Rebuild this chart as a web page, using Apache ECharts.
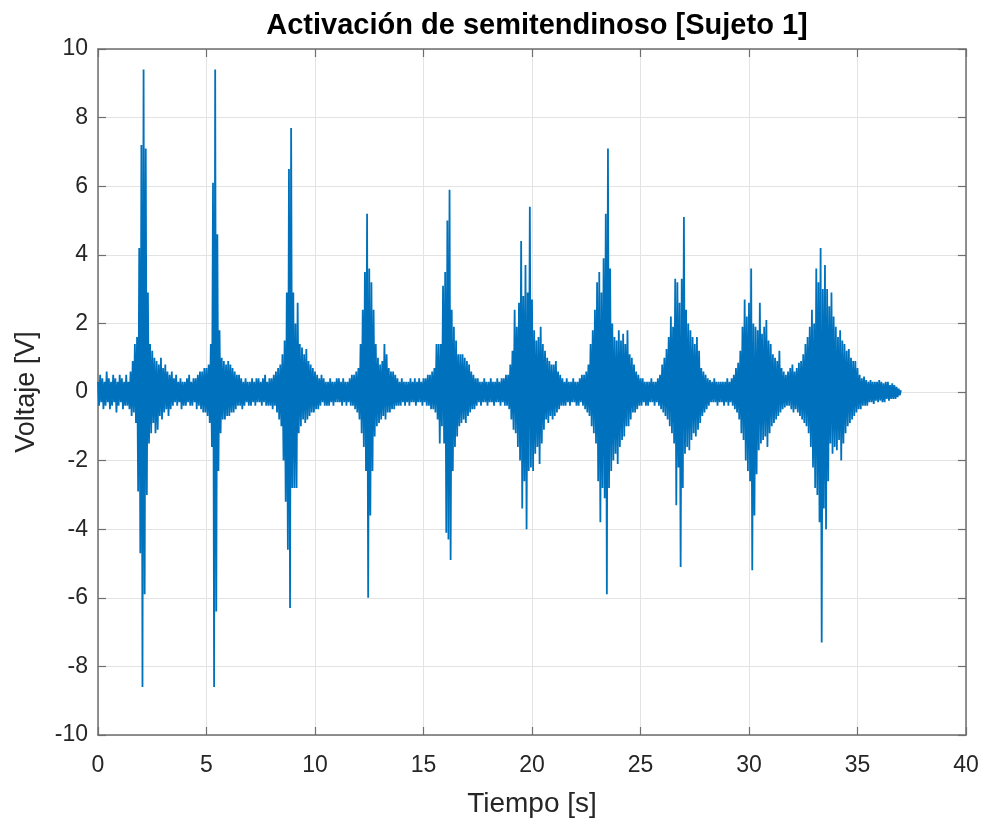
<!DOCTYPE html>
<html>
<head>
<meta charset="utf-8">
<script src="https://cdn.jsdelivr.net/npm/echarts@6/dist/echarts.min.js"></script>
<style>
html,body{margin:0;padding:0;background:#fff;}
#chart{width:986px;height:825px;}
</style>
</head>
<body>
<div id="chart"></div>
<script>
// ---- data ----
const chartTitle = 'Activación de semitendinoso [Sujeto 1]';
const xName = 'Tiempo [s]';
const yName = 'Voltaje [V]';
const xTicks = [0, 5, 10, 15, 20, 25, 30, 35, 40];
const yTicks = [-10, -8, -6, -4, -2, 0, 2, 4, 6, 8, 10];

// sample spacing (s) and start time (s) of each recorded stretch
const sampleStep = 0.05;
const cycleStart = [0, 3.5, 7.0, 10.6, 14.3, 18.0, 21.7, 25.3, 28.8, 31.9];

// voltage samples (V)
const cycle1 = [
0.3,-0.4,0.5,-0.3,0.4,-0.5,0.3,-0.4,0.6,-0.3,
0.4,-0.5,0.3,-0.4,0.5,-0.3,0.4,-0.6,0.3,-0.4,
0.5,-0.3,0.4,-0.5,0.3,-0.4,0.5,-0.4,0.3,-0.5,
0.6,-0.7,0.9,-0.6,1.4,-0.9,1.6,-2.9,4.2,-4.7,
7.2,-8.6,9.4,-5.9,7.1,-3.0,2.9,-1.5,1.4,-1.2,
1.2,-0.9,1.0,-1.2,0.9,-1.1,0.8,-0.7,1.0,-0.8,
0.7,-0.6,0.8,-0.5,0.6,-0.7,0.5,-0.5,0.6,-0.4];
const cycle2 = [
0.4,-0.3,0.5,-0.4,0.3,-0.3,0.4,-0.5,0.3,-0.4,
0.3,-0.4,0.4,-0.3,0.5,-0.4,0.3,-0.4,0.4,-0.3,
0.4,-0.5,0.5,-0.4,0.6,-0.5,0.6,-0.6,0.7,-0.6,
0.7,-0.7,0.8,-0.9,1.4,-1.6,6.1,-8.6,9.4,-6.4,
4.6,-2.3,1.8,-1.2,1.0,-0.8,0.9,-0.8,0.8,-0.7,
0.9,-0.7,0.8,-0.6,0.7,-0.6,0.6,-0.5,0.5,-0.4,
0.5,-0.4,0.4,-0.5,0.3,-0.4,0.4,-0.3,0.3,-0.4];
const cycle3 = [
0.3,-0.4,0.4,-0.3,0.3,-0.4,0.4,-0.3,0.4,-0.3,
0.3,-0.4,0.4,-0.3,0.5,-0.4,0.3,-0.4,0.4,-0.4,
0.4,-0.5,0.5,-0.4,0.6,-0.6,0.7,-0.8,0.8,-1.0,
1.1,-2.0,1.5,-3.2,2.9,-4.6,6.5,-6.3,7.7,-2.8,
2.9,-2.8,2.0,-2.8,2.6,-1.2,1.4,-1.0,1.3,-0.8,
1.1,-0.9,1.25,-0.8,0.9,-0.7,0.8,-0.6,0.7,-0.6,
0.6,-0.5,0.5,-0.5,0.4,-0.4,0.5,-0.3,0.4,-0.4,
0.3,-0.4];
const cycle4 = [
0.3,-0.4,0.4,-0.3,0.3,-0.4,0.3,-0.3,0.4,-0.3,
0.4,-0.3,0.3,-0.4,0.4,-0.3,0.3,-0.4,0.3,-0.3,
0.4,-0.4,0.5,-0.4,0.5,-0.5,0.6,-0.6,0.7,-0.8,
1.4,-1.2,2.4,-1.6,3.5,-2.3,5.2,-6.0,3.6,-3.6,
3.2,-2.3,2.4,-1.3,1.4,-1.0,1.0,-0.9,0.8,-0.8,
0.9,-0.7,1.4,-0.8,1.1,-0.6,0.7,-0.6,0.6,-0.5,
0.6,-0.5,0.5,-0.4,0.4,-0.4,0.3,-0.4,0.4,-0.3,
0.3,-0.4,0.3,-0.3];
const cycle5 = [
0.3,-0.4,0.4,-0.3,0.3,-0.3,0.4,-0.4,0.3,-0.3,
0.4,-0.3,0.3,-0.4,0.4,-0.3,0.4,-0.4,0.5,-0.4,
0.5,-0.5,0.6,-0.5,0.7,-0.6,1.4,-0.8,1.4,-1.5,
1.4,-1.0,3.1,-1.5,3.5,-4.1,5.0,-4.3,5.9,-4.9,
2.4,-2.3,1.9,-1.6,1.5,-1.3,1.1,-1.0,1.1,-0.9,
1.1,-0.8,1.0,-0.9,0.9,-0.7,0.8,-0.6,0.6,-0.5,
0.5,-0.5,0.4,-0.4,0.4,-0.3,0.3,-0.4,0.3,-0.3,
0.4,-0.3,0.3,-0.4];
const cycle6 = [
0.3,-0.3,0.4,-0.3,0.3,-0.4,0.3,-0.3,0.4,-0.3,
0.3,-0.4,0.4,-0.3,0.4,-0.4,0.5,-0.4,0.5,-0.5,
0.8,-0.8,1.2,-1.1,2.4,-1.2,1.9,-1.6,2.6,-2.0,
4.4,-3.4,2.8,-2.6,3.7,-4.0,2.9,-2.3,5.4,-2.2,
2.7,-2.3,1.8,-1.8,1.5,-1.6,1.6,-2.1,1.9,-1.5,
1.4,-1.1,1.2,-0.8,1.0,-0.9,0.9,-0.7,0.8,-0.8,
0.8,-0.7,0.9,-0.6,0.6,-0.5,0.5,-0.4,0.4,-0.4,
0.3,-0.4,0.4,-0.3];
const cycle7 = [
0.3,-0.4,0.3,-0.3,0.4,-0.3,0.3,-0.4,0.3,-0.4,
0.4,-0.3,0.5,-0.4,0.5,-0.5,0.6,-0.6,0.8,-0.7,
1.4,-1.0,1.8,-1.2,2.4,-1.5,3.2,-2.6,3.5,-3.8,
2.9,-2.8,3.9,-3.1,5.2,-5.9,7.1,-2.8,3.6,-2.3,
2.0,-2.0,1.6,-1.8,1.5,-2.1,1.8,-1.6,1.5,-1.4,
1.7,-1.3,1.4,-1.0,1.8,-1.0,1.1,-0.8,1.0,-0.6,
0.8,-0.6,0.6,-0.5,0.5,-0.4,0.4,-0.4,0.4,-0.3,
0.3,-0.4];
const cycle8 = [
0.3,-0.4,0.3,-0.3,0.4,-0.3,0.3,-0.4,0.3,-0.3,
0.4,-0.4,0.5,-0.5,0.8,-0.6,1.0,-0.7,1.25,-0.8,
1.6,-1.0,2.2,-1.2,1.9,-1.5,3.3,-3.3,3.2,-2.2,
2.6,-5.1,3.3,-2.8,5.1,-1.8,2.4,-1.6,2.0,-1.7,
1.8,-1.4,1.6,-1.2,1.4,-1.3,1.6,-1.1,1.2,-0.9,
0.7,-0.7,0.6,-0.6,0.5,-0.5,0.4,-0.4,0.35,-0.3,
0.3,-0.3,0.4,-0.3,0.3,-0.4,0.3,-0.3,0.3,-0.3];
const cycle9 = [
0.3,-0.4,0.3,-0.3,0.4,-0.4,0.3,-0.3,0.4,-0.4,
0.5,-0.5,0.7,-0.6,0.85,-0.8,1.2,-1.2,1.9,-1.4,
2.7,-2.0,2.2,-2.3,2.6,-2.6,3.6,-5.2,2.0,-3.6,
1.9,-2.4,1.8,-1.7,2.6,-1.5,1.7,-1.4,1.9,-1.3,
2.1,-1.6,1.5,-1.2,1.4,-1.0,1.1,-0.9,1.0,-0.8,
0.9,-0.7,1.2,-0.6,0.7,-0.5,0.6,-0.45,0.5,-0.4,
0.6,-0.4];
const cycle10 = [
0.7,-0.5,0.8,-0.6,0.6,-0.5,0.7,-0.6,0.85,-0.7,
0.9,-0.8,1.1,-0.9,1.4,-1.0,1.6,-1.2,1.9,-1.6,
2.4,-2.2,2.0,-2.8,3.6,-3.0,3.2,-3.8,4.2,-7.3,
3.0,-3.4,3.7,-4.0,3.0,-2.6,2.5,-1.5,2.9,-1.8,
2.2,-1.6,1.9,-1.7,1.6,-1.4,1.8,-2.0,1.5,-1.5,
1.4,-1.2,1.2,-1.0,1.25,-0.9,1.0,-0.8,0.9,-0.7,
0.9,-0.6,0.7,-0.5,0.5,-0.5,0.4,-0.4,0.45,-0.4,
0.35,-0.4,0.3,-0.3,0.35,-0.3,0.3,-0.35,0.3,-0.25,
0.3,-0.3,0.35,-0.25,0.3,-0.3,0.25,-0.3,0.3,-0.2,
0.3,-0.25,0.2,-0.2,0.25,-0.2,0.2,-0.2,0.15,-0.15,
0.1,-0.1,0.05];

const cycles = [cycle1, cycle2, cycle3, cycle4, cycle5, cycle6, cycle7, cycle8, cycle9, cycle10];
const signal = [];
cycles.forEach((vals, k) => {
  vals.forEach((v, i) => {
    signal.push([+(cycleStart[k] + i * sampleStep).toFixed(3), v]);
  });
});

// ---- chart ----
const FONT = "'Liberation Sans', Arial, Helvetica, sans-serif";
const AXIS_COLOR = '#6e6e6e';
const TEXT_COLOR = '#262626';
const GRID_COLOR = '#e3e3e3';

const chart = echarts.init(document.getElementById('chart'), null, {renderer: 'canvas'});
const xmin = xTicks[0], xmax = xTicks[xTicks.length - 1];
const ymin = yTicks[0], ymax = yTicks[yTicks.length - 1];
const xint = xTicks[1] - xTicks[0], yint = yTicks[1] - yTicks[0];

chart.setOption({
  animation: false,
  backgroundColor: '#ffffff',
  title: {
    text: chartTitle,
    left: 532,
    textAlign: 'center',
    top: 6,
    textStyle: {fontFamily: FONT, fontSize: 29, fontWeight: 'bold', color: '#000000'}
  },
  grid: {left: 98, right: 20, top: 49, bottom: 90, containLabel: false},
  xAxis: [{
    type: 'value', min: xmin, max: xmax, interval: xint, position: 'bottom',
    name: xName, nameLocation: 'middle', nameGap: 55,
    nameTextStyle: {fontFamily: FONT, fontSize: 28, color: TEXT_COLOR},
    axisLine: {show: true, onZero: false, lineStyle: {color: AXIS_COLOR, width: 1.5}},
    axisTick: {show: true, inside: true, length: 8, lineStyle: {color: AXIS_COLOR, width: 1.2}},
    axisLabel: {fontFamily: FONT, fontSize: 23, color: TEXT_COLOR, margin: 19},
    splitLine: {show: true, lineStyle: {color: GRID_COLOR, width: 1}}
  }, {
    type: 'value', min: xmin, max: xmax, interval: xint, position: 'top',
    axisLine: {show: true, onZero: false, lineStyle: {color: AXIS_COLOR, width: 1.5}},
    axisTick: {show: true, inside: true, length: 8, lineStyle: {color: AXIS_COLOR, width: 1.2}},
    axisLabel: {show: false},
    splitLine: {show: false}
  }],
  yAxis: [{
    type: 'value', min: ymin, max: ymax, interval: yint, position: 'left',
    name: yName, nameLocation: 'middle', nameGap: 58, nameRotate: 90,
    nameTextStyle: {fontFamily: FONT, fontSize: 27, color: TEXT_COLOR},
    axisLine: {show: true, onZero: false, lineStyle: {color: AXIS_COLOR, width: 1.5}},
    axisTick: {show: true, inside: true, length: 8, lineStyle: {color: AXIS_COLOR, width: 1.2}},
    axisLabel: {fontFamily: FONT, fontSize: 23, color: TEXT_COLOR, margin: 10},
    splitLine: {show: true, lineStyle: {color: GRID_COLOR, width: 1}}
  }, {
    type: 'value', min: ymin, max: ymax, interval: yint, position: 'right',
    axisLine: {show: true, onZero: false, lineStyle: {color: AXIS_COLOR, width: 1.5}},
    axisTick: {show: true, inside: true, length: 8, lineStyle: {color: AXIS_COLOR, width: 1.2}},
    axisLabel: {show: false},
    splitLine: {show: false}
  }],
  series: [{
    type: 'line',
    xAxisIndex: 0,
    yAxisIndex: 0,
    data: signal,
    showSymbol: false,
    symbol: 'none',
    sampling: null,
    lineStyle: {color: '#0072BD', width: 1.8},
    itemStyle: {color: '#0072BD'},
    z: 3
  }]
});
</script>
</body>
</html>
